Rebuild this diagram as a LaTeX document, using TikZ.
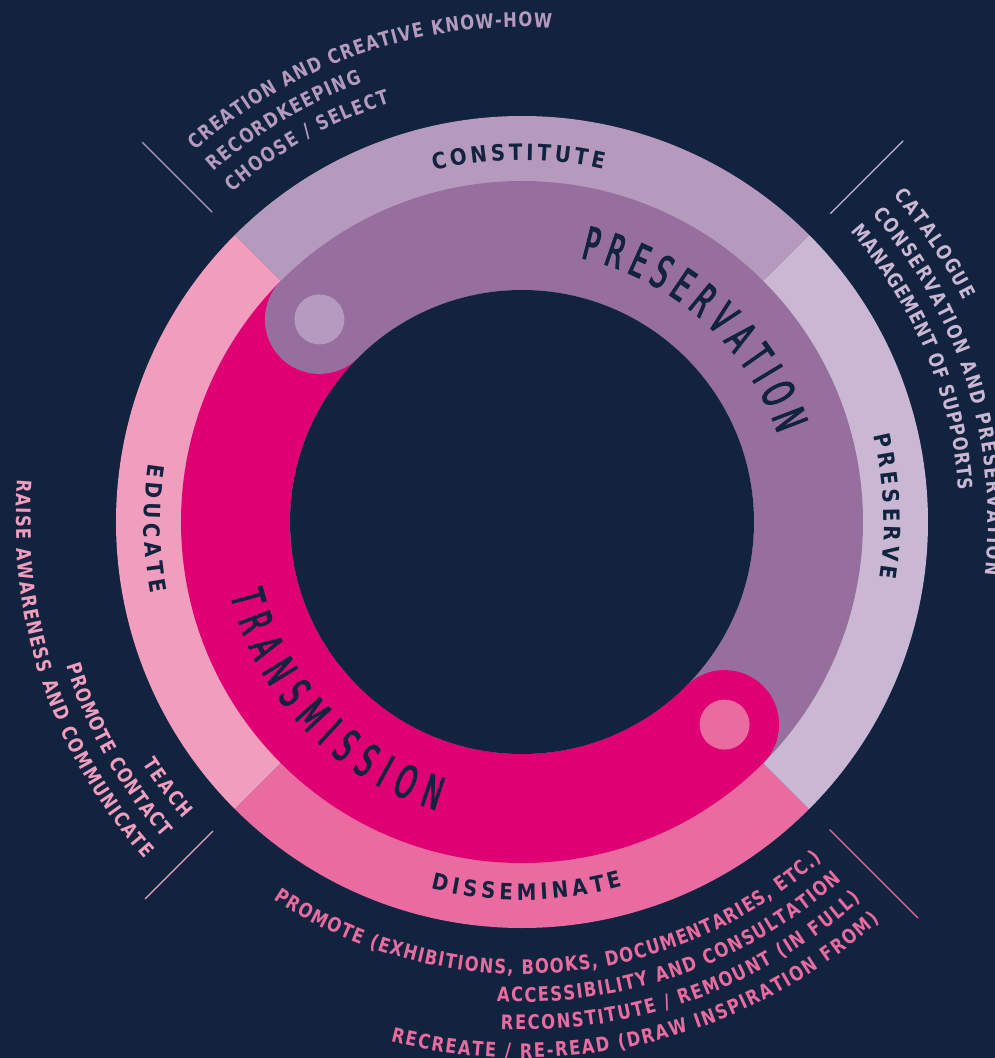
\documentclass[tikz,border=0pt]{standalone}
\usepackage{fontspec}
\usetikzlibrary{decorations.text}

% faces: bold condensed labels, narrow band titles
\newfontfamily\labelface[FakeStretch=0.82]{DejaVu Sans}
\newfontfamily\ringface[FakeStretch=0.88]{DejaVu Sans}
\newfontfamily\titleface[FakeStretch=0.56,FakeBold=2.5]{DejaVu Sans}

\definecolor{night}{HTML}{11233F}
\definecolor{lilac}{HTML}{B59ABD}
\definecolor{lavender}{HTML}{C9B7D3}
\definecolor{plum}{HTML}{966F9E}
\definecolor{fuchsiaband}{HTML}{DF0074}
\definecolor{rose}{HTML}{E96B9F}
\definecolor{blush}{HTML}{F09DBE}

\newcommand\smalllabel[1]{\labelface\bfseries\fontsize{20}{22}\selectfont\color{#1}}
\newcommand\ringword{\ringface\bfseries\fontsize{22.5}{26}\selectfont\color{night}}
\newcommand\bandword{\titleface\fontsize{45}{50}\selectfont\color{night}}

\tikzset{
  ontrack/.style={decorate, decoration={text along path, text align={fit to path}, text={#1}}},
  divider/.style={line width=1.1pt},
  ringband/.style={line width=109pt},
}

\begin{document}
\begin{tikzpicture}[x=1pt,y=1pt]
\useasboundingbox (-522,-536) rectangle (473,522);
\clip (-522,-536) rectangle (473,522);
\fill[night] (-522,-536) rectangle (473,522);

% outer ring: four quarter sectors
\fill[lilac]    (0,0) -- (45:406)  arc[start angle=45,  end angle=135, radius=406] -- cycle;
\fill[blush]    (0,0) -- (135:406) arc[start angle=135, end angle=225, radius=406] -- cycle;
\fill[rose]     (0,0) -- (225:406) arc[start angle=225, end angle=315, radius=406] -- cycle;
\fill[lavender] (0,0) -- (-45:406) arc[start angle=-45, end angle=45,  radius=406] -- cycle;

% inner bands: preservation (top/right) and transmission (bottom/left)
\draw[plum, ringband] (135:286.5) arc[start angle=135, end angle=-45, radius=286.5];
\draw[fuchsiaband, ringband] (-45:286.5) arc[start angle=-45, end angle=-225, radius=286.5];
\fill[night] (0,0) circle[radius=232];

% rounded heads with their dots
\fill[plum] (135:286.5) circle[radius=54.5];
\fill[lilac] (135:286.5) circle[radius=25];
\fill[fuchsiaband] (-45:286.5) circle[radius=54.5];
\fill[rose] (-45:286.5) circle[radius=25];

% short dividers between the label groups
\draw[lilac, divider]    (135:438) -- (135:537);
\draw[lavender, divider] (45:436)  -- (45:539);
\draw[rose, divider]     (-45:435) -- (-45:560);
\draw[blush, divider]    (225:437) -- (225:533);

% ring words
\path[ontrack={|\ringword|CONSTITUTE}]  (104.1:362) arc[start angle=104.1, end angle=77, radius=362];
\path[ontrack={|\ringword|PRESERVE}]    (13.9:362)  arc[start angle=13.9,  end angle=-8.9, radius=362];
\path[ontrack={|\ringword|DISSEMINATE}] (256:378)   arc[start angle=256,   end angle=285.5, radius=378];
\path[ontrack={|\ringword|EDUCATE}]     (171.1:378) arc[start angle=171.1, end angle=190.9, radius=378];

% band titles
\path[ontrack={|\bandword|PRESERVATION}] (77.5:270.5) arc[start angle=77.5, end angle=19, radius=270.5];
\path[ontrack={|\bandword|TRANSMISSION}] (194:300.5)  arc[start angle=194, end angle=253.5, radius=300.5];

% labels, top left
\path[ontrack={|\smalllabel{lilac}|CREATION AND CREATIVE KNOW-HOW}] (131.3:495) arc[start angle=131.3, end angle=86.6, radius=495];
\path[ontrack={|\smalllabel{lilac}|RECORDKEEPING}]   (131.3:467) arc[start angle=131.3, end angle=110, radius=467];
\path[ontrack={|\smalllabel{lilac}|CHOOSE / SELECT}] (131.3:439) arc[start angle=131.3, end angle=107.5, radius=439];

% labels, right
\path[ontrack={|\smalllabel{lavender}|CATALOGUE}] (41.3:494) arc[start angle=41.3, end angle=26.7, radius=494];
\path[ontrack={|\smalllabel{lavender}|CONSERVATION AND PRESERVATION}] (41.3:466) arc[start angle=41.3, end angle=-6.5, radius=466];
\path[ontrack={|\smalllabel{lavender}|MANAGEMENT OF SUPPORTS}] (41.5:438) arc[start angle=41.5, end angle=4.2, radius=438];

% labels, bottom
\path[ontrack={|\smalllabel{rose}|PROMOTE (EXHIBITIONS, BOOKS, DOCUMENTARIES, ETC.)}] (236.6:452) arc[start angle=236.6, end angle=311.6, radius=452];
\path[ontrack={|\smalllabel{rose}|ACCESSIBILITY AND CONSULTATION}] (267:480) arc[start angle=267, end angle=311.7, radius=480];
\path[ontrack={|\smalllabel{rose}|RECONSTITUTE / REMOUNT (IN FULL)}] (267.6:508) arc[start angle=267.6, end angle=311.9, radius=508];
\path[ontrack={|\smalllabel{rose}|RECREATE / RE-READ (DRAW INSPIRATION FROM)}] (255.8:536) arc[start angle=255.8, end angle=311.9, radius=536];

% labels, left
\path[ontrack={|\smalllabel{blush}|TEACH}] (212.5:450) arc[start angle=212.5, end angle=221.3, radius=450];
\path[ontrack={|\smalllabel{blush}|PROMOTE CONTACT}] (197.5:478) arc[start angle=197.5, end angle=221.3, radius=478];
\path[ontrack={|\smalllabel{blush}|RAISE AWARENESS AND COMMUNICATE}] (175.2:506) arc[start angle=175.2, end angle=221.7, radius=506];
\end{tikzpicture}
\end{document}
